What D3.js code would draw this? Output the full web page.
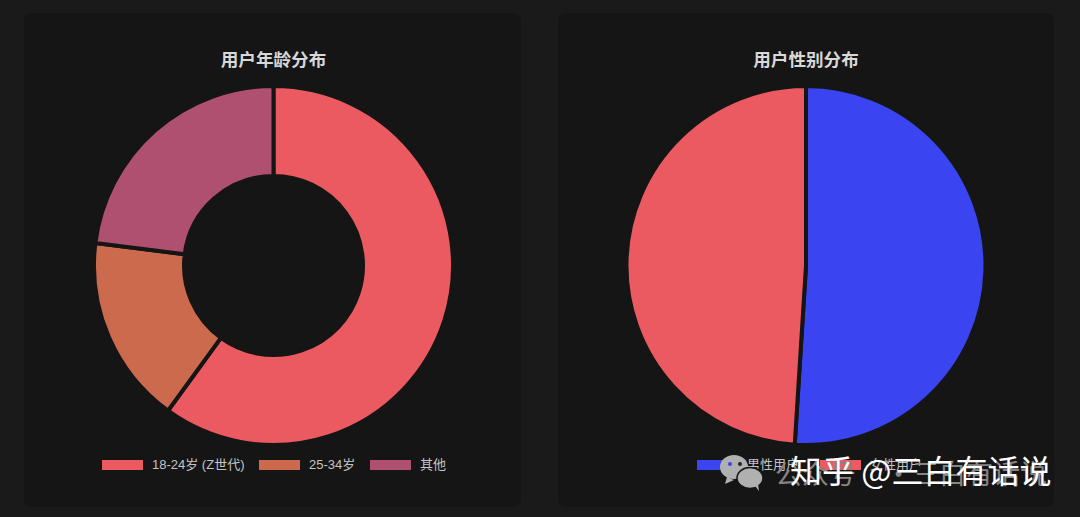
<!DOCTYPE html>
<html><head><meta charset="utf-8"><script src="https://cdn.jsdelivr.net/npm/d3@7/dist/d3.min.js"></script>
<style>html,body{margin:0;padding:0;background:#1a1a1a}svg{display:block}</style></head>
<body><svg id="c" width="1080" height="517"></svg>
<script>
const ageCategories=["18-24岁 (Z世代)","25-34岁","其他"];
const ageValues=[60,17,23];
const ageColors=["#ec5a61","#cc6a4d","#b05070"];
const genderCategories=["男性用户","女性用户"];
const genderValues=[51,49];
const genderColors=["#3a44f0","#ec5a61"];
const font='"Liberation Sans","Noto Sans CJK SC",sans-serif';
const cjk='"Noto Sans CJK SC",sans-serif';
const svg=d3.select("#c");
svg.append("rect").attr("width",1080).attr("height",517).attr("fill","#1a1a1a");
function panel(x,w,cx,title,cats,vals,cols,inner,legendX){
  svg.append("rect").attr("x",x).attr("y",13).attr("width",w).attr("height",494).attr("rx",8).attr("fill","#151515");
  svg.append("text").attr("x",cx).attr("y",66).attr("text-anchor","middle").attr("font-family",cjk).attr("font-size",17.6).attr("font-weight",700).attr("fill","#d8d8d8").text(title);
  const pie=d3.pie().sort(null).value(d=>d)(vals);
  const arc=d3.arc().innerRadius(inner).outerRadius(179.5);
  svg.append("g").attr("transform",`translate(${cx},265.5)`).selectAll("path").data(pie).join("path")
    .attr("d",arc).attr("fill",(d,i)=>cols[i]).attr("stroke","#151515").attr("stroke-width",4);
  cats.forEach((c,i)=>{
    const l=legendX[i];
    svg.append("rect").attr("x",l).attr("y",460).attr("width",41).attr("height",10).attr("fill",cols[i]);
    svg.append("text").attr("x",l+50).attr("y",469).attr("font-family",font).attr("font-size",13).attr("fill","#c4c4c4").text(c);
  });
}
panel(24,497,273.5,"用户年龄分布",ageCategories,ageValues,ageColors,89.5,[102,259,370]);
panel(558,496,806,"用户性别分布",genderCategories,genderValues,genderColors,0,[697,820]);
// watermarks
const wx=svg.append("g").attr("fill","#b0b0b0");
wx.append("ellipse").attr("cx",734).attr("cy",467).attr("rx",14).attr("ry",12);
wx.append("path").attr("d","M727 477l-2 7 9-4z");
wx.append("ellipse").attr("cx",750).attr("cy",478).attr("rx",13).attr("ry",10.5).attr("stroke","#151515").attr("stroke-width",1.5);
wx.append("path").attr("d","M755 486l4 5-1-7z");
svg.append("circle").attr("cx",730).attr("cy",464).attr("r",2).attr("fill","#3a44f0");
svg.append("circle").attr("cx",740).attr("cy",464).attr("r",2).attr("fill","#222");
[["公众号",775],["·",885],["三白有话说",912]].forEach(([t,x])=>{
  svg.append("text").attr("x",x).attr("y",484).attr("font-family",cjk).attr("font-size",27).attr("fill","#858585").text(t);
});
svg.append("text").attr("x",790).attr("y",483).attr("font-family",cjk).attr("font-size",32).attr("fill","#ffffff").text("知乎 @三白有话说");
</script></body></html>
